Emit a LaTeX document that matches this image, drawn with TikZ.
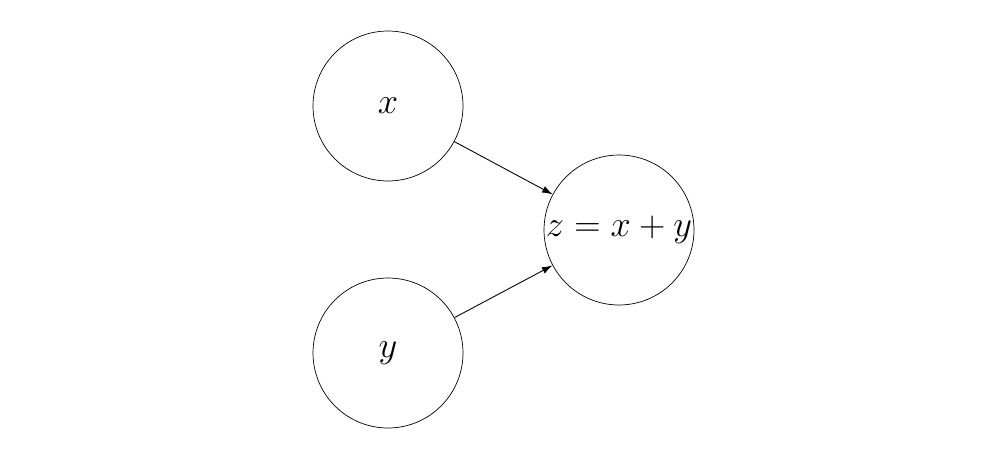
\documentclass[tikz,border=0pt]{standalone}
\usetikzlibrary{arrows.meta}
\begin{document}
\begin{tikzpicture}[x=0.02cm,y=-0.02cm,
  var/.style={draw,circle,minimum size=3cm,inner sep=0pt,font=\fontsize{19.6}{24}\selectfont},
  link/.style={-{Latex[length=6pt,width=4pt]},line width=0.5pt}]
\useasboundingbox (0,0) rectangle (1000,450);
\node[var] (x) at (388,106) {$x$};
\node[var] (y) at (388,353) {$y$};
\node[var] (z) at (619,230) {$z=x+y$};
\draw[link] (x) -- (z);
\draw[link] (y) -- (z);
\end{tikzpicture}
\end{document}
